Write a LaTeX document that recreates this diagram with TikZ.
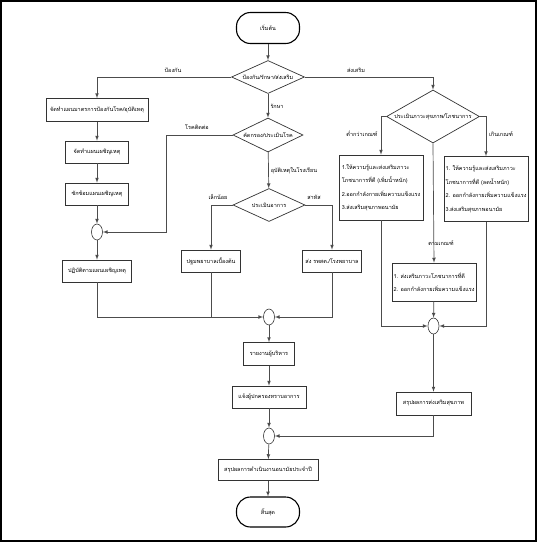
\documentclass[tikz,border=0pt]{standalone}
\usepackage{fontspec}
\newfontfamily\thaifont[Script=Thai]{Loma}
\usetikzlibrary{shapes,arrows,positioning}

\tikzset{
  txt/.style={font=\thaifont\fontsize{5.5}{7}\selectfont, inner sep=1pt},
  term/.style={txt, draw=black, line width=1.1pt, rounded corners=14pt, minimum width=63pt, minimum height=31pt},
  box/.style={txt, draw=black!80, line width=0.7pt, minimum height=22pt},
  multi/.style={box, align=left, minimum width=84pt, font=\thaifont\fontsize{5.5}{13.5}\selectfont},
  dec/.style={txt, draw=black!80, line width=0.7pt, diamond, aspect=2.5, inner sep=0pt},
  merge/.style={draw=black!80, line width=0.6pt, ellipse, minimum width=11pt, minimum height=16pt, inner sep=0pt},
  arr/.style={draw=black!70, line width=0.7pt, -latex},
  ln/.style={draw=black!70, line width=0.7pt},
}

\begin{document}
\begin{tikzpicture}[x=1pt,y=-1pt]
\useasboundingbox (0,0) rectangle (537,542);
\draw[line width=2pt] (1,1) rectangle (536,541);
% main column
\node[term] (start) at (268,28) {เริ่มต้น};
\node[dec, minimum width=73pt, minimum height=33pt] (D1) at (268,77) {ป้องกัน/รักษา/ส่งเสริม};
\node[dec, minimum width=70pt, minimum height=34pt] (D2) at (268,135) {คัดกรอง/ประเมินโรค};
\node[dec, minimum width=72pt, minimum height=33pt] (D3) at (269,205) {ประเมินอาการ};
\node[box, minimum width=59pt] (P1) at (211,261) {ปฐมพยาบาลเบื้องต้น};
\node[box, minimum width=59pt] (P2) at (332,261) {ส่ง รพสต./โรงพยาบาล};
\node[merge] (J2) at (269,317) {};
\node[box, minimum width=51pt, minimum height=23pt] (R1) at (269,354) {รายงานผู้บริหาร};
\node[box, minimum width=74pt] (R2) at (269,397) {แจ้งผู้ปกครองทราบอาการ};
\node[merge] (J3) at (269,436) {};
\node[box, minimum width=100pt, minimum height=21pt] (R3) at (268,470) {สรุปผลการดำเนินงานอนามัยประจำปี};
\node[term, minimum height=30pt] (stop) at (268,512) {สิ้นสุด};
% left column
\node[box, minimum width=102pt, minimum height=23pt] (A1) at (97,110) {จัดทำแผนมาตรการป้องกันโรค/อุบัติเหตุ};
\node[box, minimum width=63pt] (A2) at (97,152) {จัดทำแผนเผชิญเหตุ};
\node[box, minimum width=63pt] (A3) at (97,194) {ซักซ้อมแผนเผชิญเหตุ};
\node[merge] (J1) at (97,232) {};
\node[box, minimum width=69pt] (A4) at (97,271) {ปฏิบัติตามแผนเผชิญเหตุ};
% right column
\node[dec, minimum width=88pt, minimum height=53pt] (DR) at (433,116.5) {ประเมินภาวะสุขภาพ/โภชนาการ};
\node[multi, minimum height=65pt] (BL) at (381,187.5) {1.ให้ความรู้และส่งเสริมภาวะ\\โภชนาการที่ดี (เพิ่มน้ำหนัก)\\2.ออกกำลังกายเพิ่มความแข็งแรง\\3.ส่งเสริมสุขภาพอนามัย};
\node[multi, minimum height=65pt] (BR) at (486,189) {1. ให้ความรู้และส่งเสริมภาวะ\\โภชนาการที่ดี (ลดน้ำหนัก)\\2. ออกกำลังกายเพิ่มความแข็งแรง\\3.ส่งเสริมสุขภาพอนามัย};
\node[multi, minimum height=38pt] (BM) at (434,282) {1. ส่งเสริมภาวะโภชนาการที่ดี\\2. ออกกำลังกายเพิ่มความแข็งแรง};
\node[merge] (J4) at (433.5,326) {};
\node[box, minimum width=75pt, minimum height=23pt] (RS) at (433.5,403.5) {สรุปผลการส่งเสริมสุขภาพ};
% labels
\node[txt] (l1) at (173,70) {ป้องกัน};
\node[txt] (l2) at (356,70) {ส่งเสริม};
\node[txt] (l3) at (277,106) {รักษา};
\node[txt] (l4) at (197,127) {โรคติดต่อ};
\node[txt] (l5) at (294,171) {อุบัติเหตุในโรงเรียน};
\node[txt] (l6) at (218,197) {เล็กน้อย};
\node[txt] (l7) at (314,197) {สาหัส};
\node[txt] (l8) at (362,134) {ต่ำกว่าเกณฑ์};
\node[txt] (l9) at (501,134) {เกินเกณฑ์};
\node[txt] (l10) at (441,243) {ตามเกณฑ์};
% connectors
\draw[arr] (start) -- (D1);
\draw[arr] (D1.west) -| (A1.north);
\draw[arr] (D1.east) -| (DR.north);
\draw[arr] (D1) -- (D2);
\draw[arr] (A1) -- (A2);
\draw[arr] (A2) -- (A3);
\draw[arr] (A3) -- (J1);
\draw[arr] (J1) -- (A4);
\draw[arr] (D2.west) -- ++(-66,0) |- (J1.east);
\draw[arr] (D2) -- (D3);
\draw[arr] (D3.west) -| (P1.north);
\draw[arr] (D3.east) -| (P2.north);
\draw[arr] (A4.south) |- (J2.west);
\draw[ln] (P1.south) -- (P1.south |- J2.west);
\draw[arr] (P2.south) |- (J2.east);
\draw[arr] (J2) -- (R1);
\draw[arr] (R1) -- (R2);
\draw[arr] (R2) -- (J3);
\draw[arr] (J3) -- (R3);
\draw[arr] (R3) -- (stop);
\draw[arr] (DR.west) -| (BL.north);
\draw[arr] (DR.east) -| (BR.north);
\draw[arr] (DR.south) -- (BM.north);
\draw[arr] (BL.south) |- (J4.west);
\draw[arr] (BR.south) |- (J4.east);
\draw[arr] (BM) -- (J4);
\draw[arr] (J4) -- (RS);
\draw[arr] (RS.south) |- (J3.east);
\end{tikzpicture}
\end{document}
